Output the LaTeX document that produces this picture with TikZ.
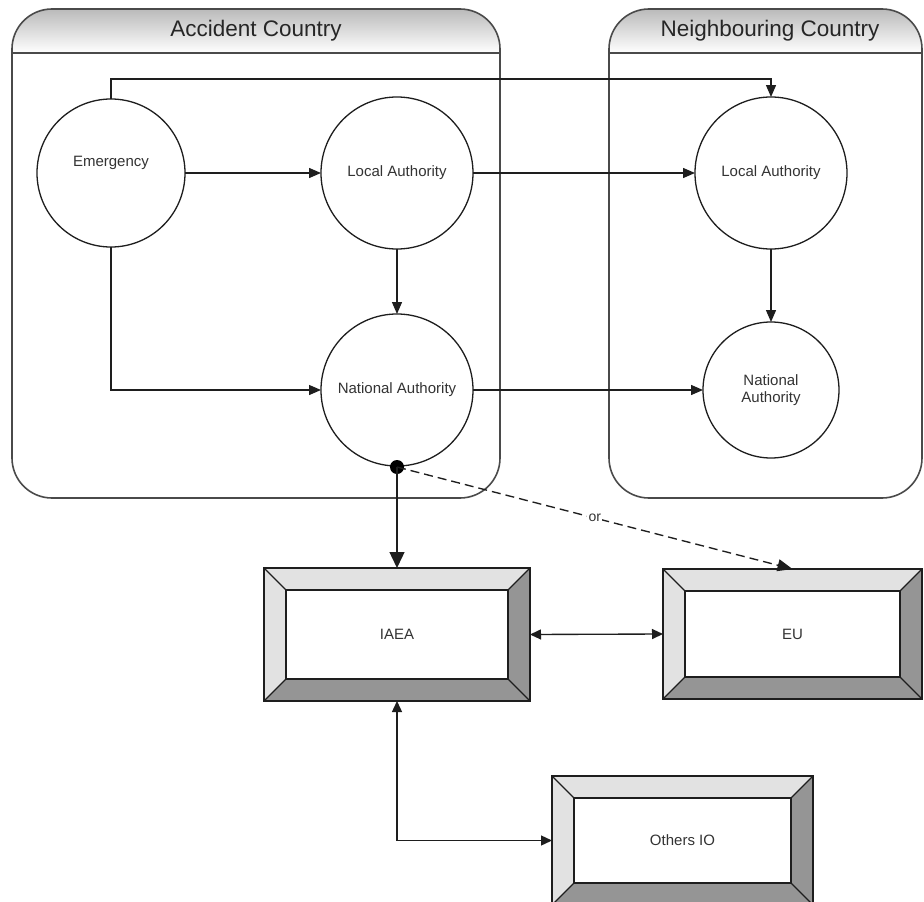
\documentclass[tikz,border=0pt]{standalone}
\usepackage{fontspec}
\setmainfont{Liberation Sans}
\usetikzlibrary{arrows.meta,calc}
\definecolor{ln}{HTML}{1E1E1E}
\definecolor{cline}{HTML}{4A4A4A}
\definecolor{txt}{HTML}{333333}
\definecolor{bevlight}{HTML}{E2E2E2}
\definecolor{bevdark}{HTML}{959595}
\newcommand{\bevbox}[6]{%
 \fill[bevlight] (#2,#3) -- (#4,#3) -- ({#4-22},{#3+22}) -- ({#2+22},{#3+22}) -- cycle;
 \fill[bevlight] (#2,#3) -- ({#2+22},{#3+22}) -- ({#2+22},{#5-22}) -- (#2,#5) -- cycle;
 \fill[bevdark] (#4,#3) -- (#4,#5) -- ({#4-22},{#5-22}) -- ({#4-22},{#3+22}) -- cycle;
 \fill[bevdark] (#2,#5) -- (#4,#5) -- ({#4-22},{#5-22}) -- ({#2+22},{#5-22}) -- cycle;
 \draw[bevline] ({#2+22},{#3+22}) rectangle ({#4-22},{#5-22});
 \draw[bevline] (#2,#3) -- ({#2+22},{#3+22}) (#4,#3) -- ({#4-22},{#3+22})
   (#2,#5) -- ({#2+22},{#5-22}) (#4,#5) -- ({#4-22},{#5-22});
 \node[bevnode, minimum width={#4-#2}, minimum height={#5-#3}] (#1) at ({(#2+#4)/2},{(#3+#5)/2}) {#6};
}
\begin{document}
\begin{tikzpicture}[x=1pt,y=-1pt,
  circ/.style={circle, draw=ln, line width=1.3pt, fill=white, minimum size=#1, inner sep=0pt, outer sep=0pt,
    font=\fontsize{15}{17.5}\selectfont, text=txt, align=center},
  arr/.style={draw=ln, line width=1.35pt, -{Triangle[length=12pt,width=10pt]}},
  darr/.style={draw=ln, line width=1.35pt, {Triangle[length=11pt,width=10pt]}-{Triangle[length=11pt,width=10pt]}},
  bigarr/.style={draw=ln, line width=1.35pt, -{Triangle[length=16pt,width=15pt]}},
  dasharr/.style={draw=ln, line width=1.35pt, dash pattern=on 9pt off 5pt, -{Triangle[length=15pt,width=12pt]}},
  bevline/.style={draw=ln, line width=1.2pt},
  bevnode/.style={rectangle, draw=ln, line width=1.4pt, inner sep=0pt, outer sep=0pt,
    font=\fontsize{15}{17.5}\selectfont, text=txt},
  contline/.style={draw=cline, line width=1.6pt, rounded corners=40pt},
  head/.style={font=\fontsize{22.5}{26}\selectfont, text=black!85}
]
\useasboundingbox (0,0) rectangle (924,902);
\fill[white] (0,0) rectangle (924,902);

% containers
\begin{scope}
  \clip[rounded corners=40pt] (12,9) rectangle (500,498);
  \shade[top color=black!27, bottom color=white] (12,9) rectangle (500,53);
\end{scope}
\draw[contline] (12,9) rectangle (500,498);
\draw[draw=cline, line width=1.6pt] (12,53) -- (500,53);
\node[head] (acc) at (256,31) {Accident Country};

\begin{scope}
  \clip[rounded corners=40pt] (609,9) rectangle (922,498);
  \shade[top color=black!27, bottom color=white] (609,9) rectangle (922,53);
\end{scope}
\draw[contline] (609,9) rectangle (922,498);
\draw[draw=cline, line width=1.6pt] (609,53) -- (922,53);
\node[head] (nbr) at (770,31) {Neighbouring Country};

% circles
\node[circ=148, label={[yshift=10pt,font=\fontsize{15}{17.5}\selectfont,text=txt]center:Emergency}] (em) at (111,173) {};
\node[circ=152] (la1) at (397,173) {Local Authority};
\node[circ=152] (na1) at (397,390) {National Authority};
\node[circ=152] (la2) at (771,173) {Local Authority};
\node[circ=136] (na2) at (771,390) {National\\Authority};

% connectors
\coordinate (topc) at (0,79);
\draw[arr] (em.north) -- (em.north |- topc) -| (la2.north);
\draw[arr] (em.east) -- (la1.west);
\draw[arr] (la1.east) -- (la2.west);
\draw[arr] (la1.south) -- (na1.north);
\draw[arr] (la2.south) -- (na2.north);
\draw[arr] (em.south) |- (na1.west);
\draw[arr] (na1.east) -- (na2.west);

% boxes
\bevbox{iaea}{264}{568}{530}{701}{IAEA}
\bevbox{eu}{663}{569}{922}{699}{EU}
\bevbox{oio}{552}{776}{813}{905}{Others IO}

% dot and outgoing
\node[circle, fill=black, minimum size=14pt, inner sep=0pt] (dot) at (397,467) {};
\draw[bigarr] (dot.center) -- (dot.center |- iaea.north);
\draw[dasharr] (dot.center) -- node[pos=0.5, fill=white, inner sep=1.5pt, text=txt, font=\fontsize{14}{16}\selectfont] (or) {or} (eu.north);
\draw[darr] (iaea.east) -- (eu.west);
\draw[darr] (iaea.south) |- (oio.west);
\end{tikzpicture}
\end{document}
